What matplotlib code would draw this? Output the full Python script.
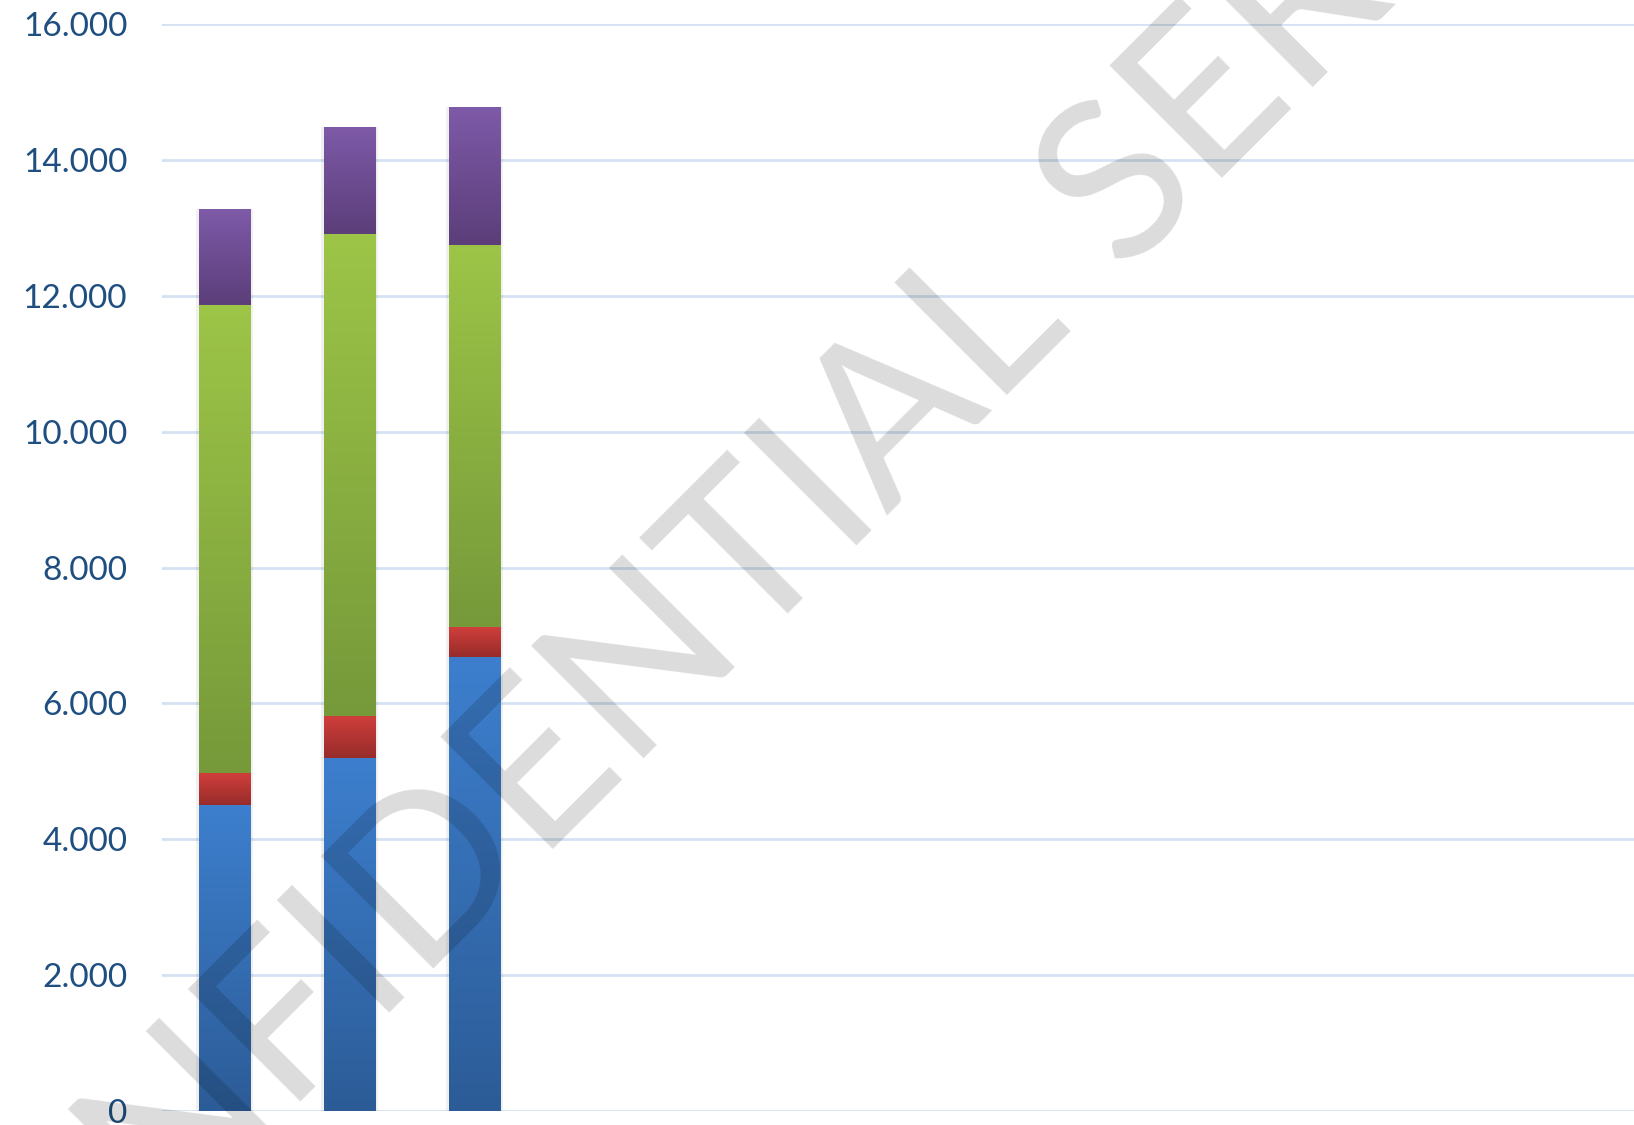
import numpy as np
import matplotlib.pyplot as plt
from matplotlib.colors import LinearSegmentedColormap

# data
categories = ["1", "2", "3"]
blue = [4500, 5190, 6680]
red = [470, 630, 440]
green = [6900, 7090, 5630]
purple = [1410, 1575, 2030]

yticks = [0, 2000, 4000, 6000, 8000, 10000, 12000, 14000, 16000]
ytick_labels = ["0", "2.000", "4.000", "6.000", "8.000", "10.000", "12.000", "14.000", "16.000"]

# gradient (top colour, bottom colour) per series
series = [
    (blue, "#3D7FCE", "#2C5C97"),
    (red, "#D03F3C", "#972C2A"),
    (green, "#9DC547", "#76993A"),
    (purple, "#7E5AA8", "#5C3E7A"),
]

W, H = 1634, 1125
fig = plt.figure(figsize=(W / 100, H / 100), dpi=100)
ax = fig.add_axes([162 / W, 1 - 1111 / H, 1 - 162 / W, (1111 - 24) / H])

x = np.arange(len(categories))
bottom = np.zeros(len(categories))
grad = np.linspace(0, 1, 256).reshape(-1, 1)
for vals, top_c, bot_c in series:
    cmap = LinearSegmentedColormap.from_list("g", [bot_c, top_c])
    bars = ax.bar(x, vals, width=0.41, bottom=bottom, color="none", zorder=2)
    for b in bars:
        x0, y0 = b.get_x(), b.get_y()
        im = ax.imshow(grad, cmap=cmap, aspect="auto", origin="lower",
                       extent=[x0, x0 + b.get_width(), y0, y0 + b.get_height()],
                       zorder=2, interpolation="bilinear")
        im.set_clip_path(b)
    bottom += np.array(vals)

# soft shadow around the stacks
ax.bar(x, bottom, width=0.45, color="#000000", alpha=0.06, zorder=1)

ax.set_xlim(-0.5, 11.28)
ax.set_ylim(0, 16000)
ax.set_yticks(yticks)
ax.set_yticklabels(ytick_labels, fontfamily="Lato", fontsize=24, color="#1F4E80")
ax.tick_params(axis="y", length=0, pad=25)
ax.set_xticks([])
ax.grid(axis="y", color="#D5E2F3", linewidth=2, zorder=0)
ax.set_axisbelow(True)
for s in ax.spines.values():
    s.set_visible(False)

# watermark
wm = dict(rotation=45, rotation_mode="anchor", va="baseline", fontsize=160,
          fontfamily="Lato", fontweight="normal", color="black", alpha=0.14, zorder=5)
fig.text(1071 / W, 1 - 320 / H, "CONFIDENTIAL", ha="right", **wm)
fig.text(1121 / W, 1 - 272 / H, "SERVICE", ha="left", **wm)

fig.savefig("out.png", dpi=100)
